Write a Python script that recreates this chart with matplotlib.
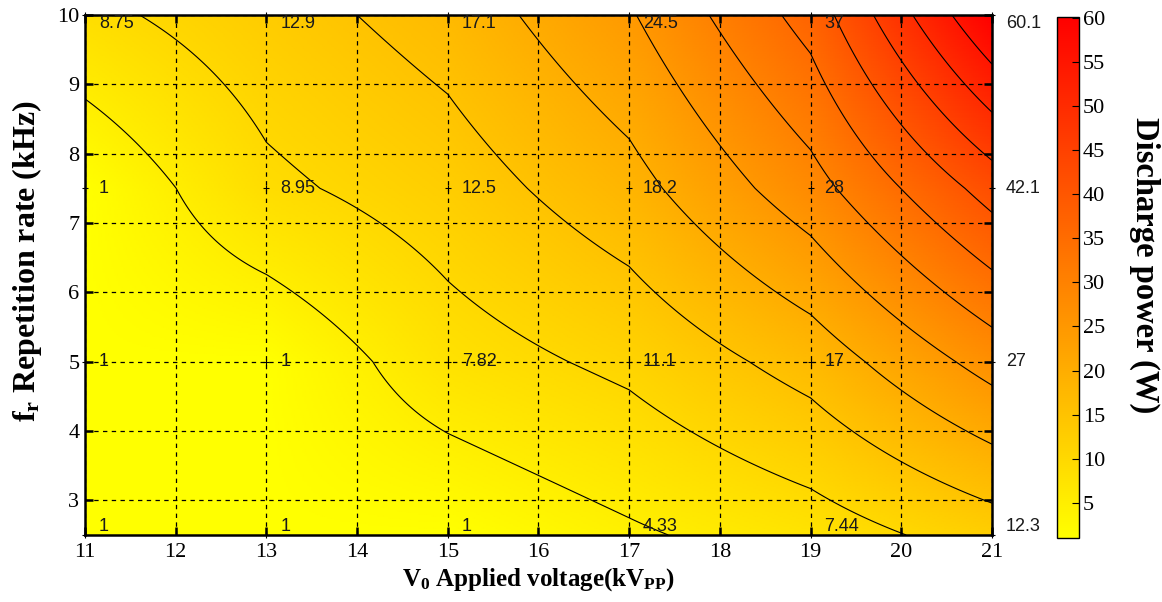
import numpy as np
import matplotlib
matplotlib.use("Agg")
import matplotlib.pyplot as plt
from matplotlib.colors import Normalize

# Measured discharge power (W) on the voltage / repetition-rate grid
voltage_kv = [11, 13, 15, 17, 19, 21]
rep_rate_khz = [2.5, 5.0, 7.5, 10.0]
power_w = [
    [1, 1, 1, 4.33, 7.44, 12.3],         # 2.5 kHz
    [1, 1, 7.82, 11.1, 17, 27],          # 5 kHz
    [1, 8.95, 12.5, 18.2, 28, 42.1],     # 7.5 kHz
    [8.75, 12.9, 17.1, 24.5, 37, 60.1],  # 10 kHz
]
power_labels = [
    ["1", "1", "1", "4.33", "7.44", "12.3"],
    ["1", "1", "7.82", "11.1", "17", "27"],
    ["1", "8.95", "12.5", "18.2", "28", "42.1"],
    ["8.75", "12.9", "17.1", "24.5", "37", "60.1"],
]
contour_levels = [5, 10, 15, 20, 25, 30, 35, 40, 45, 50, 55, 60]
cbar_ticks = [5, 10, 15, 20, 25, 30, 35, 40, 45, 50, 55, 60]

serif = "Liberation Serif"
sans = "Liberation Sans"
plt.rcParams["mathtext.fontset"] = "custom"
plt.rcParams["mathtext.rm"] = "Liberation Serif:bold"
plt.rcParams["mathtext.it"] = "Liberation Serif:bold"
plt.rcParams["mathtext.bf"] = "Liberation Serif:bold"

x = np.asarray(voltage_kv, float)
y = np.asarray(rep_rate_khz, float)
Z = np.asarray(power_w, float)


def bilinear_surface(x, y, Z, xf, yf):
    """Bilinear resampling of a regular-grid field onto a finer grid."""
    rows = np.array([np.interp(xf, x, row) for row in Z])           # (ny, nxf)
    return np.array([np.interp(yf, y, rows[:, j]) for j in range(len(xf))]).T


xf = np.linspace(x.min(), x.max(), 401)
yf = np.linspace(y.min(), y.max(), 301)
Zf = bilinear_surface(x, y, Z, xf, yf)

fig = plt.figure(figsize=(11.62, 6.02), dpi=100)
ax = fig.add_axes([0.0731, 0.1113, 0.7806, 0.8638])

norm = Normalize(vmin=Z.min(), vmax=Z.max())
cmap = plt.get_cmap("autumn_r")
mesh = ax.pcolormesh(xf, yf, Zf, cmap=cmap, norm=norm, shading="gouraud",
                     rasterized=True, zorder=0)
ax.contour(xf, yf, Zf, levels=contour_levels, colors="black",
           linewidths=0.8, zorder=2)

ax.set_xlim(11, 21)
ax.set_ylim(2.5, 10)
ax.set_xticks(range(11, 22))
ax.set_yticks(range(3, 11))
ax.grid(True, color="black", linestyle=(0, (3.5, 3.5)), linewidth=0.9, zorder=3)
ax.set_axisbelow(False)

ax.tick_params(direction="in", top=True, right=True, length=6, width=1.8,
               labelsize=16, pad=4)
ax.tick_params(axis="x", pad=6)
for lab in ax.get_xticklabels() + ax.get_yticklabels():
    lab.set_fontfamily(serif)
for sp in ax.spines.values():
    sp.set_linewidth(1.8)

# Point markers and value labels
for i, fv in enumerate(rep_rate_khz):
    if i == len(rep_rate_khz) - 1:
        va = "top"
    elif i == 0:
        va = "bottom"
    else:
        va = "center"
    for j, vv in enumerate(voltage_kv):
        ax.plot(vv, fv, marker="+", ms=5, mew=0.8, color="black",
                clip_on=False, zorder=5)
        ax.annotate(power_labels[i][j], xy=(vv, fv), xytext=(10, 0),
                    textcoords="offset points", ha="left", va=va,
                    fontsize=13, family=sans, color="#1a1a1a",
                    annotation_clip=False, zorder=6)

ax.set_xlabel(r"$\mathbf{V_0}$ Applied voltage(kV$\mathbf{_{PP}}$)",
              fontsize=18, fontweight="bold", family=serif, labelpad=3)
ax.set_ylabel(r"$\mathbf{f_r}$ Repetition rate (kHz)",
              fontsize=23, fontweight="bold", family=serif)
ax.yaxis.set_label_coords(-0.045, 0.527)

cax = fig.add_axes([0.9096, 0.1063, 0.0189, 0.8654])
cb = fig.colorbar(mesh, cax=cax, ticks=cbar_ticks)
cb.outline.set_linewidth(1.0)
cax.tick_params(direction="in", length=5, width=0.8, labelsize=16, pad=3)
for lab in cax.get_yticklabels():
    lab.set_fontfamily(serif)
cb.set_label("Discharge power (W)", rotation=-90, fontsize=23.5,
             fontweight="bold", family=serif, va="center", ha="center")
cax.yaxis.set_label_coords(4.0, 0.524)

fig.savefig("out.png", dpi=100)
